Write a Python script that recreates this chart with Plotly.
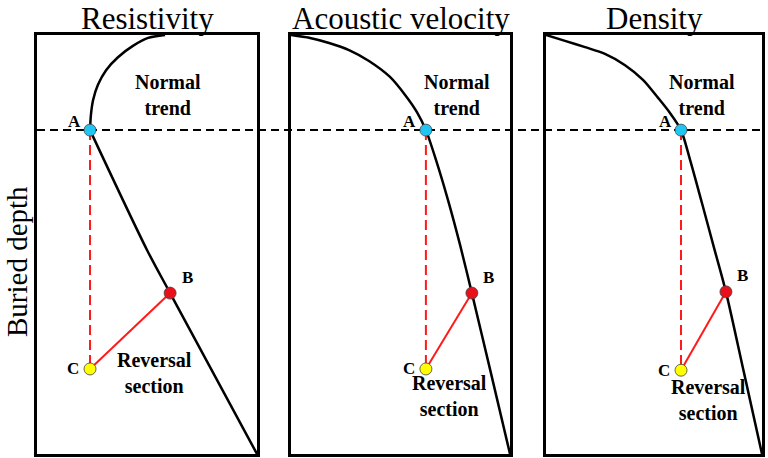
import plotly.graph_objects as go

# ---------------- data (normalised property value vs normalised buried depth) -------------
panel_titles = ["Resistivity", "Acoustic velocity", "Density"]
depth_label = "Buried depth"

# Resistivity: curved normal trend above A, near-straight trend below A
res_upper_value = [0.582, 0.505, 0.436, 0.368, 0.314, 0.277, 0.255, 0.245, 0.241]
res_upper_depth = [0.000, 0.007, 0.026, 0.053, 0.084, 0.119, 0.155, 0.191, 0.227]
res_lower_value = [0.241, 0.500, 0.605, 1.000]
res_lower_depth = [0.227, 0.513, 0.616, 1.000]

# Acoustic velocity
vel_value = [0.000, 0.087, 0.174, 0.265, 0.356, 0.452, 0.521, 0.575, 0.616,
             0.662, 0.717, 0.772, 0.826, 0.913, 1.000]
vel_depth = [0.000, 0.007, 0.019, 0.036, 0.062, 0.100, 0.143, 0.184, 0.227,
             0.298, 0.394, 0.501, 0.616, 0.807, 1.000]

# Density
den_value = [0.000, 0.088, 0.181, 0.273, 0.366, 0.449, 0.519, 0.574, 0.625,
             0.667, 0.722, 0.778, 0.833, 0.917, 1.000]
den_depth = [0.000, 0.014, 0.029, 0.045, 0.072, 0.107, 0.150, 0.186, 0.227,
             0.298, 0.401, 0.508, 0.613, 0.807, 1.000]

# Key points per panel
point_names = ["A", "B", "C"]
depth_A = 0.227
value_A = [0.241, 0.616, 0.625]
value_B = [0.605, 0.826, 0.833]
depth_B = [0.616, 0.616, 0.613]
value_C = [0.241, 0.616, 0.625]
depth_C = [0.797, 0.797, 0.800]

normal_label = "Normal<br>trend"
reversal_label = "Reversal<br>section"

# ---------------- layout / styling -------------
W, H = 768, 458
px_left = [37, 291, 546]
px_right = [257, 510, 762]
px_top, px_bottom = 35, 454

serif = "Liberation Serif, Times New Roman, serif"
normal_pos = [(0.595, 0.143), (0.758, 0.143), (0.722, 0.143)]
reversal_pos = [(0.536, 0.807), (0.726, 0.862), (0.750, 0.871)]

fig = go.Figure()

curves = [
    [(res_upper_value, res_upper_depth), (res_lower_value, res_lower_depth)],
    [(vel_value, vel_depth)],
    [(den_value, den_depth)],
]

annotations = []
for i in range(3):
    xa = "x" if i == 0 else f"x{i+1}"
    ya = "y" if i == 0 else f"y{i+1}"
    for vx, dy in curves[i]:
        fig.add_trace(go.Scatter(x=vx, y=dy, xaxis=xa, yaxis=ya, mode="lines",
                                 line=dict(color="black", width=2.5, shape="spline", smoothing=0.8),
                                 cliponaxis=False, hoverinfo="skip", showlegend=False))
    # red dashed A -> C
    fig.add_trace(go.Scatter(x=[value_A[i], value_C[i]], y=[depth_A, depth_C[i]],
                             xaxis=xa, yaxis=ya, mode="lines",
                             line=dict(color="#ff1a1a", width=2, dash="10px,5px"),
                             showlegend=False, hoverinfo="skip"))
    # red solid C -> B
    fig.add_trace(go.Scatter(x=[value_C[i], value_B[i]], y=[depth_C[i], depth_B[i]],
                             xaxis=xa, yaxis=ya, mode="lines",
                             line=dict(color="#ff1a1a", width=2),
                             showlegend=False, hoverinfo="skip"))
    # points
    fig.add_trace(go.Scatter(x=[value_A[i], value_B[i], value_C[i]],
                             y=[depth_A, depth_B[i], depth_C[i]],
                             xaxis=xa, yaxis=ya, mode="markers",
                             marker=dict(size=12, color=["#22c4f2", "#e8101a", "#ffff00"],
                                         line=dict(color="#444444", width=0.8)),
                             cliponaxis=False, showlegend=False, hoverinfo="skip"))
    # point labels
    shifts = {"A": (-16, 9), "B": (17, 16), "C": (-17, 0)}
    pts = {"A": (value_A[i], depth_A), "B": (value_B[i], depth_B[i]), "C": (value_C[i], depth_C[i])}
    for n in point_names:
        annotations.append(dict(x=pts[n][0], y=pts[n][1], xref=xa, yref=ya, text=f"<b>{n}</b>",
                                showarrow=False, xshift=shifts[n][0], yshift=shifts[n][1],
                                font=dict(family=serif, size=17, color="black")))
    annotations.append(dict(x=normal_pos[i][0], y=normal_pos[i][1], xref=xa, yref=ya,
                            text=f"<b>{normal_label}</b>", showarrow=False,
                            font=dict(family=serif, size=20, color="black")))
    annotations.append(dict(x=reversal_pos[i][0], y=reversal_pos[i][1], xref=xa, yref=ya,
                            text=f"<b>{reversal_label}</b>", showarrow=False,
                            font=dict(family=serif, size=20, color="black")))
    # titles
    annotations.append(dict(x=(px_left[i] + px_right[i]) / 2 / W, y=1.0,
                            xref="paper", yref="paper", text=panel_titles[i], showarrow=False,
                            xanchor="center", yanchor="top", borderpad=0,
                            font=dict(family=serif, size=31, color="black")))

annotations.append(dict(x=0.0, y=1 - 262 / H, xref="paper", yref="paper", text=depth_label,
                        textangle=-90, showarrow=False, xanchor="left", yanchor="middle",
                        borderpad=0,
                        font=dict(family=serif, size=29, color="black")))

axis_common = dict(range=[0, 1], showgrid=False, zeroline=False, showticklabels=False,
                   ticks="", showline=True, linecolor="black", linewidth=2.5, mirror=True,
                   fixedrange=True)
layout_axes = {}
for i in range(3):
    sx = "xaxis" if i == 0 else f"xaxis{i+1}"
    sy = "yaxis" if i == 0 else f"yaxis{i+1}"
    ya = "y" if i == 0 else f"y{i+1}"
    xa = "x" if i == 0 else f"x{i+1}"
    layout_axes[sx] = dict(axis_common, domain=[px_left[i] / W, px_right[i] / W], anchor=ya)
    layout_axes[sy] = dict(axis_common, range=[1, 0],
                           domain=[1 - px_bottom / H, 1 - px_top / H], anchor=xa)

fig.update_layout(
    width=W, height=H, margin=dict(l=0, r=0, t=0, b=0),
    paper_bgcolor="white", plot_bgcolor="rgba(0,0,0,0)",
    annotations=annotations,
    shapes=[dict(type="line", xref="paper", yref="y", x0=px_left[0] / W, x1=px_right[2] / W,
                 y0=depth_A, y1=depth_A, layer="below",
                 line=dict(color="black", width=2, dash="8px,5px"))],
    **layout_axes,
)

fig.write_html("out.html", config={"displayModeBar": False},
               post_script="document.body.style.margin='0';document.body.style.overflow='hidden';")
